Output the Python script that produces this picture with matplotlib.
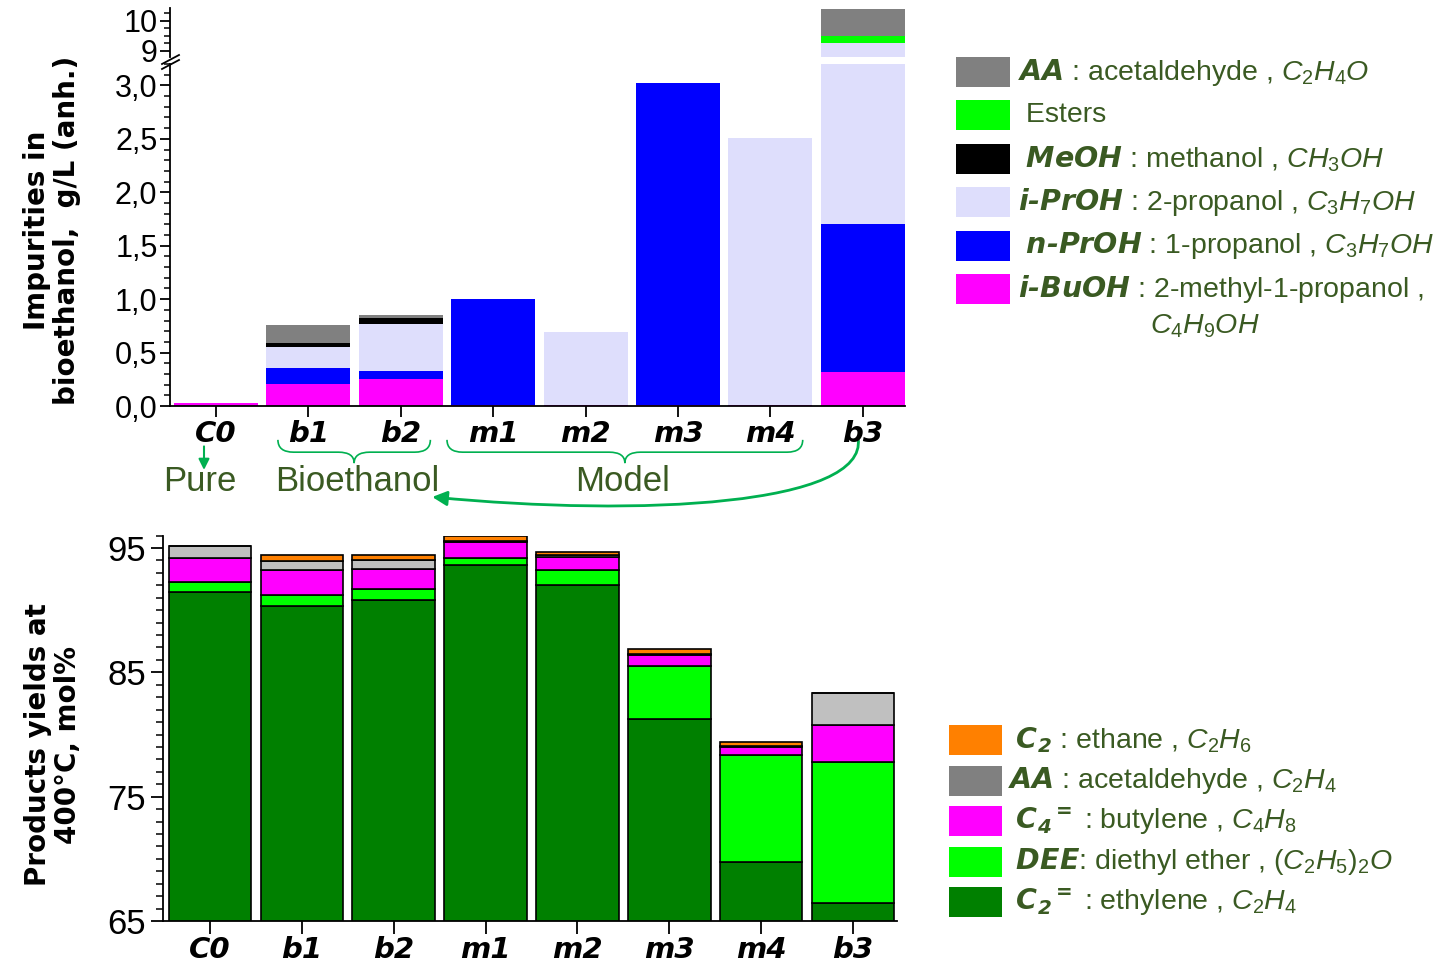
import numpy as np
import matplotlib
matplotlib.use("Agg")
import matplotlib.pyplot as plt
import matplotlib.transforms as mtransforms
from matplotlib import font_manager
from matplotlib.lines import Line2D
from matplotlib.patches import Rectangle, PathPatch, FancyArrowPatch
from matplotlib.path import Path
from matplotlib.ticker import MultipleLocator, FuncFormatter

samples = ["C0", "b1", "b2", "m1", "m2", "m3", "m4", "b3"]

# impurities in bioethanol, g/L (anh.), stacked bottom -> top
i_buoh = [0.03, 0.21, 0.25, 0.01, 0.01, 0.01, 0.01, 0.32]
n_proh = [0.0, 0.15, 0.075, 0.99, 0.0, 3.01, 0.0, 1.38]
i_proh = [0.0, 0.195, 0.44, 0.0, 0.685, 0.0, 2.50, 7.57]
meoh = [0.0, 0.035, 0.06, 0.0, 0.0, 0.0, 0.0, 0.0]
esters = [0.0, 0.0, 0.0, 0.0, 0.0, 0.0, 0.0, 0.23]
aa_imp = [0.0, 0.17, 0.025, 0.0, 0.0, 0.0, 0.0, 0.90]

# product yields at 400 C, mol%, stacked bottom -> top
ethylene = [91.5, 90.35, 90.8, 93.6, 92.0, 81.25, 69.75, 66.45]
dee = [0.75, 0.9, 0.9, 0.6, 1.25, 4.25, 8.6, 11.35]
butylene = [1.95, 1.95, 1.6, 1.3, 1.05, 0.9, 0.65, 3.0]
aa_prod = [1.0, 0.75, 0.7, 0.1, 0.1, 0.1, 0.1, 2.55]
ethane = [0.0, 0.5, 0.45, 0.35, 0.3, 0.35, 0.3, 0.0]

imp_colors = ["#ff00ff", "#0000ff", "#dedefc", "#000000", "#00ff00", "#808080"]
prod_colors = ["#008000", "#00ff00", "#ff00ff", "#c0c0c0", "#ff8000"]

imp_labels = [
    r"$\mathbf{AA}$ : acetaldehyde , $\mathit{C_2H_4O}$",
    " Esters",
    r" $\mathbf{MeOH}$ : methanol , $\mathit{CH_3OH}$",
    r"$\mathbf{i‐PrOH}$ : 2-propanol , $\mathit{C_3H_7OH}$",
    r" $\mathbf{n‐PrOH}$ : 1-propanol , $\mathit{C_3H_7OH}$",
    r"$\mathbf{i‐BuOH}$ : 2-methyl-1-propanol ,",
]
imp_legend_colors = ["#808080", "#00ff00", "#000000", "#dedefc", "#0000ff", "#ff00ff"]

prod_labels = [
    r" $\mathbf{C_2}$ : ethane , $\mathit{C_2H_6}$",
    r"$\mathbf{AA}$ : acetaldehyde , $\mathit{C_2H_4}$",
    r" $\mathbf{C_4{}^{=}}$ : butylene , $\mathit{C_4H_8}$",
    r" $\mathbf{DEE}$: diethyl ether , $\mathit{(C_2H_5)_2O}$",
    r" $\mathbf{C_2{}^{=}}$ : ethylene , $\mathit{C_2H_4}$",
]
prod_legend_colors = ["#ff8000", "#808080", "#ff00ff", "#00ff00", "#008000"]

installed = {f.name for f in font_manager.fontManager.ttflist}
has_narrow = "Liberation Sans Narrow" in installed
narrow = "Liberation Sans Narrow" if has_narrow else "Liberation Sans"

plt.rcParams["font.family"] = [narrow, "DejaVu Sans"]
plt.rcParams["mathtext.fontset"] = "custom"
plt.rcParams["mathtext.rm"] = narrow
plt.rcParams["mathtext.it"] = narrow + ":italic"
plt.rcParams["mathtext.bf"] = "DejaVu Sans:italic:bold"

olive = "#3a5a22"
green = "#00b050"
leg_size = 23 if has_narrow else 20.5

W, H = 1451, 966
fig = plt.figure(figsize=(W / 100, H / 100), dpi=100)


def box(l, t, r, b):
    return [l / W, 1 - b / H, (r - l) / W, (b - t) / H]


x = np.arange(len(samples))


def stack(ax, layers, colors, width, **kw):
    bottom = np.zeros(len(samples))
    for vals, c in zip(layers, colors):
        vals = np.asarray(vals, dtype=float)
        ax.bar(x, vals, width, bottom=bottom, color=c, **kw)
        bottom += vals


def style_xlabels(ax):
    for lab in ax.get_xticklabels():
        lab.set_fontfamily("DejaVu Sans")
        lab.set_fontweight("bold")
        lab.set_fontstyle("italic")
        lab.set_fontsize(21)


comma = FuncFormatter(lambda v, p: f"{v:.1f}".replace(".", ","))

# ---- impurities panel (broken y axis) ----
ax_lo = fig.add_axes(box(170, 64, 905, 406))
ax_hi = fig.add_axes(box(170, 8, 905, 57))
imp_layers = [i_buoh, n_proh, i_proh, meoh, esters, aa_imp]
for ax in (ax_lo, ax_hi):
    stack(ax, imp_layers, imp_colors, 0.91, linewidth=0)
    ax.set_xlim(-0.498, 7.457)
    for s in ("top", "right"):
        ax.spines[s].set_visible(False)
    ax.spines["left"].set_linewidth(1.3)
    ax.tick_params(axis="y", which="major", direction="out", length=7, width=1.3,
                   labelsize=22, pad=2)
    ax.tick_params(axis="y", which="minor", direction="out", length=4, width=1.1)

ax_lo.set_ylim(0, 3.2)
ax_lo.yaxis.set_major_locator(MultipleLocator(0.5))
ax_lo.yaxis.set_minor_locator(MultipleLocator(0.1))
ax_lo.yaxis.set_major_formatter(comma)
ax_lo.spines["bottom"].set_linewidth(1.3)
ax_lo.set_xticks(x, samples)
ax_lo.tick_params(axis="x", direction="out", length=8, width=1.3, pad=2)
style_xlabels(ax_lo)

ax_hi.set_ylim(8.8, 10.43)
ax_hi.yaxis.set_major_locator(MultipleLocator(1))
ax_hi.yaxis.set_minor_locator(MultipleLocator(0.25))
ax_hi.spines["bottom"].set_visible(False)
ax_hi.set_xticks([])

# axis break marks
for dy in (0, 5):
    fig.add_artist(Line2D([162 / W, 179 / W], [1 - (69 - dy) / H, 1 - (60 - dy) / H],
                          color="black", lw=1.3))

fig.text(52 / W, 1 - 230 / H, "Impurities in\nbioethanol,  g/L (anh.)", rotation=90,
         ha="center", va="center", ma="center", fontsize=20, fontweight="bold",
         fontfamily="DejaVu Sans", linespacing=1.1)

# groups under the sample labels
trans = mtransforms.blended_transform_factory(ax_lo.transData, ax_lo.transAxes)


def brace(x0, x1, y_end=-0.099, y_flat=-0.135, y_tip=-0.167, r=0.17):
    xm = 0.5 * (x0 + x1)
    verts = [(x0, y_end), (x0, y_flat), (x0 + r, y_flat),
             (xm - r, y_flat), (xm, y_flat), (xm, y_tip),
             (xm, y_flat), (xm + r, y_flat),
             (x1 - r, y_flat), (x1, y_flat), (x1, y_end)]
    codes = [Path.MOVETO, Path.CURVE3, Path.CURVE3,
             Path.LINETO, Path.CURVE3, Path.CURVE3,
             Path.CURVE3, Path.CURVE3,
             Path.LINETO, Path.CURVE3, Path.CURVE3]
    ax_lo.add_patch(PathPatch(Path(verts, codes), transform=trans, fill=False,
                              edgecolor=green, lw=1.2, clip_on=False))


brace(1 - 0.33, 2 + 0.32)
brace(3 - 0.5, 6 + 0.35)

ax_lo.annotate("", xy=(-0.13, -0.195), xytext=(-0.13, -0.11), xycoords=trans,
               arrowprops=dict(arrowstyle="-|>", color=green, lw=1.5, mutation_scale=16),
               annotation_clip=False)

curve = Path([(6.95, -0.095), (7.05, -0.29), (4.6, -0.325), (2.34, -0.266)],
             [Path.MOVETO, Path.CURVE4, Path.CURVE4, Path.CURVE4])
arrow = FancyArrowPatch(path=curve, arrowstyle="-|>", mutation_scale=22, color=green,
                        lw=2.0, transform=trans, clip_on=False)
ax_lo.add_artist(arrow)

for txt, xpos in (("Pure", -0.17), ("Bioethanol", 1.53), ("Model", 4.4)):
    ax_lo.text(xpos, -0.222, txt, transform=trans, ha="center", va="center",
               fontsize=25, color=olive, clip_on=False)

# ---- product yields panel ----
ax_b = fig.add_axes(box(163, 535.6, 897, 921))
stack(ax_b, [ethylene, dee, butylene, aa_prod, ethane], prod_colors, 0.90,
      edgecolor="black", linewidth=1.2)
ax_b.set_xlim(-0.512, 7.479)
ax_b.set_ylim(65, 96)
ax_b.set_yticks([65, 75, 85, 95])
ax_b.yaxis.set_minor_locator(MultipleLocator(1))
for s in ("top", "right"):
    ax_b.spines[s].set_visible(False)
for s in ("left", "bottom"):
    ax_b.spines[s].set_linewidth(1.3)
ax_b.tick_params(axis="y", which="major", direction="out", length=9, width=1.3,
                 labelsize=25, pad=3)
ax_b.tick_params(axis="y", which="minor", direction="out", length=5, width=1.1)
ax_b.set_xticks(x, samples)
ax_b.tick_params(axis="x", direction="out", length=9, width=1.3, pad=2)
style_xlabels(ax_b)

fig.text(53 / W, 1 - 745 / H, "Products yields at\n400°C, mol%", rotation=90,
         ha="center", va="center", ma="center", fontsize=20, fontweight="bold",
         fontfamily="DejaVu Sans", linespacing=1.1)

# ---- legends ----
for i, (lab, col) in enumerate(zip(imp_labels, imp_legend_colors)):
    yc = 72 + i * 43.4
    fig.add_artist(Rectangle((956 / W, 1 - (yc + 15) / H), 54 / W, 30 / H,
                             transform=fig.transFigure, color=col, lw=0))
    fig.text(1018 / W, 1 - yc / H, lab, ha="left", va="center", fontsize=leg_size,
             color=olive)
fig.text(1205 / W, 1 - 326 / H, r"$\mathit{C_4H_9OH}$", ha="center", va="center",
         fontsize=leg_size, color=olive)

for i, (lab, col) in enumerate(zip(prod_labels, prod_legend_colors)):
    yc = 740 + i * 40.5
    fig.add_artist(Rectangle((949 / W, 1 - (yc + 15) / H), 53 / W, 30 / H,
                             transform=fig.transFigure, color=col, lw=0))
    fig.text(1008 / W, 1 - yc / H, lab, ha="left", va="center", fontsize=leg_size,
             color=olive)

fig.savefig("out.png", dpi=100)
